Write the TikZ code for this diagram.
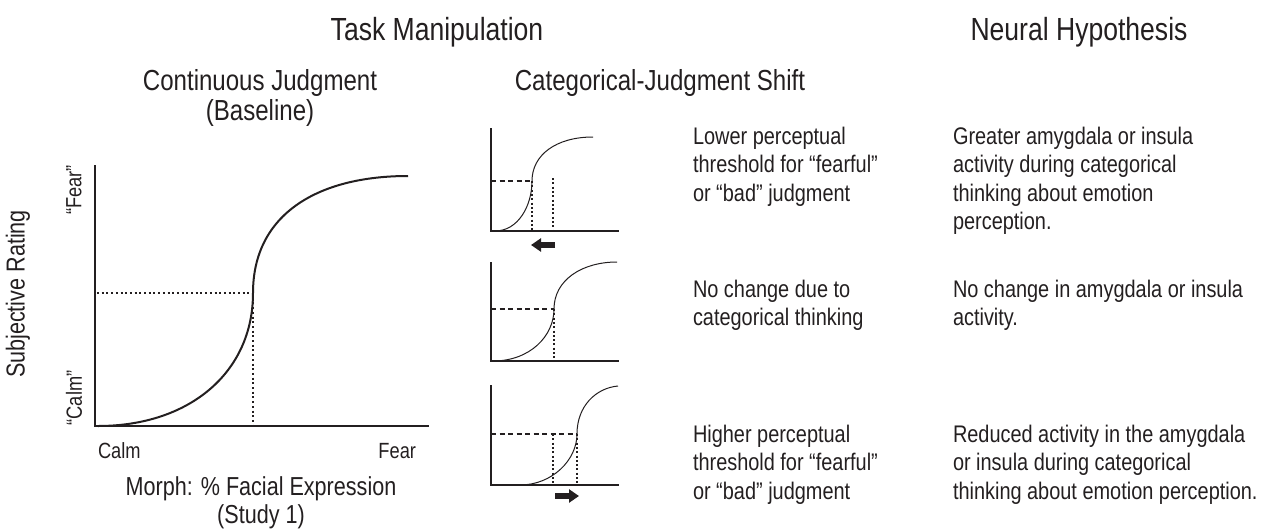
\documentclass[tikz,border=0pt]{standalone}
\usepackage{fontspec}
\setmainfont{Liberation Sans}[FakeStretch=0.83]
\usetikzlibrary{arrows.meta}
\definecolor{ink}{HTML}{231F20}
\begin{document}
\begin{tikzpicture}[x=1pt,y=-1pt,
  every node/.style={inner sep=0pt,outer sep=0pt,text=ink},
  head/.style={font=\fontsize{32}{36}\selectfont,anchor=base},
  subhead/.style={font=\fontsize{29}{30}\selectfont,anchor=base},
  axtitle/.style={font=\fontsize{26}{28}\selectfont},
  tick/.style={font=\fontsize{22}{24}\selectfont},
  body/.style={font=\fontsize{24}{28.5}\selectfont,anchor=base west,align=left},
  axis/.style={draw=ink,line width=1.6pt},
  saxis/.style={draw=ink,line width=2pt},
  bigcurve/.style={draw=ink,line width=2pt},
  smallcurve/.style={draw=ink,line width=1pt},
  dots/.style={draw=ink,line width=2pt,dash pattern=on 2pt off 2.7pt},
  sdots/.style={draw=ink,line width=2pt,dash pattern=on 2pt off 2.3pt},
  sdash/.style={draw=ink,line width=1.5pt,dash pattern=on 5pt off 3.5pt},
  blockarrow/.style={draw=ink,line width=6.5pt,-{Triangle[length=10pt,width=13pt]}}]
\useasboundingbox (0,0) rectangle (1267,531);

% headings
\node[head] (tm) at (437,40) {Task Manipulation};
\node[head] (nh) at (1079,40) {Neural Hypothesis};
\node[subhead] (cj) at (260,90) {Continuous Judgment};
\node[subhead] (bl) at (260,120) {(Baseline)};
\node[subhead] (cs) at (660,90) {Categorical-Judgment Shift};

% main plot
\coordinate (mo) at (95,426);
\coordinate (mt) at (95,165);
\coordinate (mr) at (429,426);
\coordinate (ms) at (98,426);
\coordinate (mi) at (253,293);
\coordinate (me) at (408,176);
\coordinate (mh) at (97,293);
\coordinate (mb) at (253,426);
\draw[axis] (mt) -- (mo) -- (mr);
\draw[dots] (mh) -- (mi);
\draw[dots] (mi) -- (mb);
\draw[bigcurve] (ms) .. controls (190,426) and (253,372) .. (mi)
  .. controls (253,214) and (318,176) .. (me);

\node[axtitle,rotate=90] (sr) at (18,294) {Subjective Rating};
\node[tick,rotate=90] (yf) at (74,190) {“Fear”};
\node[tick,rotate=90] (yc) at (74,398) {“Calm”};
\node[tick,anchor=base west] (xc) at (98,458) {Calm};
\node[tick,anchor=base east] (xf) at (416,458) {Fear};
\node[axtitle,anchor=base] (mx) at (261,495) {Morph: \% Facial Expression};
\node[axtitle,anchor=base] (st) at (261,523) {(Study 1)};

% small plot 1
\coordinate (ao) at (491,231);
\coordinate (at) at (491,128);
\coordinate (ar) at (619,231);
\coordinate (as) at (495,231);
\coordinate (ai) at (532,181);
\coordinate (ae) at (593,137);
\coordinate (ah) at (491,181);
\coordinate (ab) at (532,231);
\coordinate (ap) at (553,178);
\coordinate (aq) at (553,231);
\coordinate (a1) at (555,245);
\coordinate (a2) at (531,245);
\draw[saxis] (at) -- (ao) -- (ar);
\draw[sdash] (ah) -- (ai);
\draw[sdots] (ai) -- (ab);
\draw[sdots] (ap) -- (aq);
\draw[smallcurve] (as) .. controls (518,231) and (532,206) .. (ai)
  .. controls (532,155) and (556,137) .. (ae);
\draw[blockarrow] (a1) -- (a2);

% small plot 2
\coordinate (bo) at (491,361);
\coordinate (bt) at (491,262);
\coordinate (br) at (619,361);
\coordinate (bs) at (493,361);
\coordinate (bi) at (554,309);
\coordinate (be) at (617,262);
\coordinate (bh) at (491,309);
\coordinate (bb) at (554,361);
\draw[saxis] (bt) -- (bo) -- (br);
\draw[sdash] (bh) -- (bi);
\draw[sdots] (bi) -- (bb);
\draw[smallcurve] (bs) .. controls (530,361) and (554,336) .. (bi)
  .. controls (554,280) and (582,262) .. (be);

% small plot 3
\coordinate (co) at (491,485);
\coordinate (ct) at (491,385);
\coordinate (cr) at (619,485);
\coordinate (cs0) at (520,485);
\coordinate (ci) at (577,434);
\coordinate (ce) at (618,386);
\coordinate (ch) at (491,434);
\coordinate (cb) at (577,485);
\coordinate (cp) at (553,434);
\coordinate (cq) at (553,485);
\coordinate (c1) at (555,496);
\coordinate (c2) at (579,496);
\draw[saxis] (ct) -- (co) -- (cr);
\draw[sdash] (ch) -- (ci);
\draw[sdots] (ci) -- (cb);
\draw[sdots] (cp) -- (cq);
\draw[smallcurve] (cs0) .. controls (552,485) and (577,460) .. (ci)
  .. controls (577,406) and (596,388) .. (ce);
\draw[blockarrow] (c1) -- (c2);

% middle column texts (anchor = baseline of last line)
\node[body] (t1) at (693,201) {Lower perceptual\\threshold for “fearful”\\or “bad” judgment};
\node[body] (t2) at (693,325.5) {No change due to\\categorical thinking};
\node[body] (t3) at (693,499) {Higher perceptual\\threshold for “fearful”\\or “bad” judgment};

% right column texts
\node[body] (n1) at (953,229.5) {Greater amygdala or insula\\activity during categorical\\thinking about emotion\\perception.};
\node[body] (n2) at (953,325.5) {No change in amygdala or insula\\activity.};
\node[body] (n3) at (953,499) {Reduced activity in the amygdala\\or insula during categorical\\thinking about emotion perception.};
\end{tikzpicture}
\end{document}
